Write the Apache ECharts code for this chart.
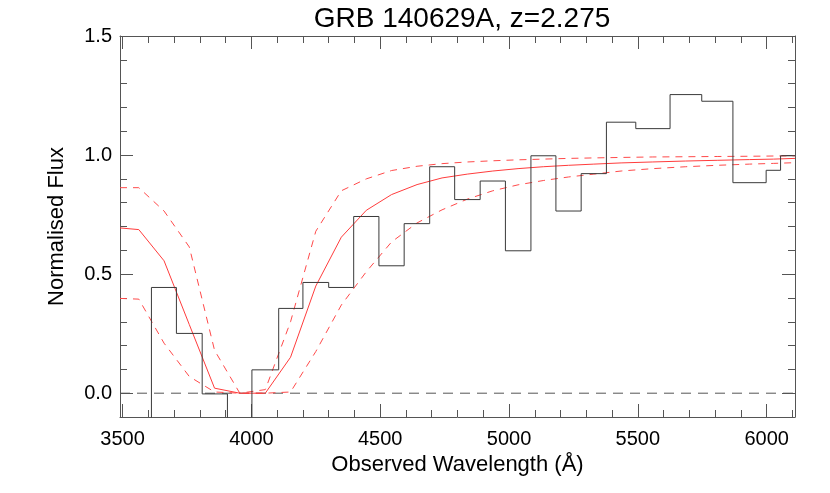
<!DOCTYPE html>
<html>
<head>
<meta charset="utf-8">
<title>GRB 140629A</title>
<script src="https://cdn.jsdelivr.net/npm/echarts@6/dist/echarts.min.js"></script>
<style>
  html, body { margin: 0; padding: 0; background: #fff; }
  #main { width: 830px; height: 493px; }
</style>
</head>
<body>
<div id="main"></div>
<script>
// 观测光谱（直方图）的分箱边界和归一化流量
var binEdges = [3515, 3612, 3709, 3809, 3907, 4002, 4106, 4200, 4300, 4397, 4495, 4593, 4692,
    4789, 4888, 4986, 5085, 5182, 5280, 5378, 5492, 5625, 5748, 5869, 5998, 6054, 6110];
var binFlux = [-0.35, 0.444, 0.251, -0.003, -0.3, 0.098, 0.356, 0.465, 0.444, 0.742, 0.535, 0.712,
    0.951, 0.813, 0.891, 0.598, 0.997, 0.765, 0.922, 1.138, 1.111, 1.254, 1.226, 0.884, 0.936, 0.997];

// 模型曲线（实线）和上下限（虚线）
var modelWave = [3490, 3563, 3661, 3759, 3857, 3955, 4054, 4152, 4250, 4349, 4446, 4544, 4643,
    4740, 4838, 4937, 5035, 5133, 5231, 5329, 5435, 5558, 5686, 5808, 5933, 6026, 6110];
var modelFlux = [0.694, 0.687, 0.556, 0.288, 0.021, 0.0, 0.0, 0.151, 0.45, 0.655, 0.768, 0.834, 0.876,
    0.904, 0.92, 0.933, 0.943, 0.951, 0.957, 0.962, 0.967, 0.971, 0.975, 0.978, 0.981, 0.983, 0.986];
var upperFlux = [0.863, 0.863, 0.765, 0.614, 0.18, 0.0, 0.015, 0.30, 0.68, 0.85, 0.90, 0.935, 0.953,
    0.964, 0.971, 0.976, 0.98, 0.983, 0.986, 0.988, 0.99, 0.992, 0.993, 0.994, 0.995, 0.996, 0.997];
var lowerFlux = [0.398, 0.395, 0.21, 0.07, 0.005, 0.0, 0.0, 0.005, 0.175, 0.37, 0.51, 0.635, 0.715,
    0.77, 0.815, 0.85, 0.875, 0.893, 0.908, 0.92, 0.933, 0.943, 0.951, 0.957, 0.962, 0.965, 0.968];

// 刻度
var xMajor = [3500, 4000, 4500, 5000, 5500, 6000];
var yMajor = [0.0, 0.5, 1.0, 1.5];
var xMinor = [];
for (var w = 3500; w <= 6100; w += 100) xMinor.push(w);
var yMinor = [];
for (var k = -1; k <= 15; k++) yMinor.push(+(k / 10).toFixed(1));

var xMin = 3490, xMax = 6110, yMin = -0.1, yMax = 1.5;

function steps(edges, vals) {
    var out = [];
    for (var i = 0; i < vals.length; i++) {
        out.push([edges[i], vals[i]]);
        out.push([edges[i + 1], vals[i]]);
    }
    return out;
}
function pairs(xs, ys) {
    return xs.map(function (x, i) { return [x, ys[i]]; });
}

var font = 'Liberation Sans, Helvetica, Arial, sans-serif';
var axisColor = '#555';

function xAx(pos, ticks, len, showLine, showLabel) {
    var a = {
        type: 'value', position: pos, min: xMin, max: xMax,
        axisLine: {show: showLine, onZero: false, lineStyle: {color: axisColor, width: 1}},
        axisTick: {show: true, inside: true, length: len, customValues: ticks, lineStyle: {color: axisColor}},
        axisLabel: {show: showLabel, customValues: xMajor, fontSize: 20, color: '#000', fontFamily: font, margin: 12,
            formatter: function (v) { return String(v); }},
        splitLine: {show: false}
    };
    if (showLabel) {
        a.name = 'Observed Wavelength (Å)';
        a.nameLocation = 'middle';
        a.nameGap = 35;
        a.nameTextStyle = {fontSize: 22, color: '#000', fontFamily: font};
    }
    return a;
}
function yAx(pos, ticks, len, showLine, showLabel) {
    var a = {
        type: 'value', position: pos, min: yMin, max: yMax,
        axisLine: {show: showLine, onZero: false, lineStyle: {color: axisColor, width: 1}},
        axisTick: {show: true, inside: true, length: len, customValues: ticks, lineStyle: {color: axisColor}},
        axisLabel: {show: showLabel, customValues: yMajor, fontSize: 20, color: '#000', fontFamily: font, margin: 8,
            formatter: function (v) { return v.toFixed(1); }},
        splitLine: {show: false}
    };
    if (showLabel) {
        a.name = 'Normalised Flux';
        a.nameLocation = 'middle';
        a.nameGap = 52;
        a.nameTextStyle = {fontSize: 22, color: '#000', fontFamily: font};
    }
    return a;
}

var myChart = echarts.init(document.getElementById('main'));

option = {
    animation: false,
    backgroundColor: '#fff',
    title: {
        text: 'GRB 140629A, z=2.275',
        left: 457, top: 0, textAlign: 'center',
        textStyle: {fontSize: 28, fontWeight: 'normal', color: '#000', fontFamily: font}
    },
    grid: {left: 120, right: 35, top: 36, bottom: 76},
    xAxis: [
        xAx('bottom', xMajor, 13, true, true),
        xAx('bottom', xMinor, 7, false, false),
        xAx('top', xMajor, 13, true, false),
        xAx('top', xMinor, 7, false, false)
    ],
    yAxis: [
        yAx('left', yMajor, 13, true, true),
        yAx('left', yMinor, 7, false, false),
        yAx('right', yMajor, 13, true, false),
        yAx('right', yMinor, 7, false, false)
    ],
    series: [
        {
            name: 'zero', type: 'line', symbol: 'none', clip: true,
            data: [[xMin, 0], [xMax, 0]],
            lineStyle: {color: '#555', width: 1, type: [10, 7]}
        },
        {
            name: 'lower', type: 'line', symbol: 'none', clip: true,
            data: pairs(modelWave, lowerFlux),
            lineStyle: {color: '#ff4a4a', width: 1, type: [7, 6]}
        },
        {
            name: 'upper', type: 'line', symbol: 'none', clip: true,
            data: pairs(modelWave, upperFlux),
            lineStyle: {color: '#ff4a4a', width: 1, type: [7, 6]}
        },
        {
            name: 'model', type: 'line', symbol: 'none', clip: true,
            data: pairs(modelWave, modelFlux),
            lineStyle: {color: '#ff3c3c', width: 1}
        },
        {
            name: 'spectrum', type: 'line', symbol: 'none', clip: true,
            data: steps(binEdges, binFlux),
            lineStyle: {color: '#3a3a3a', width: 1}
        }
    ]
};

myChart.setOption(option);
</script>
</body>
</html>
